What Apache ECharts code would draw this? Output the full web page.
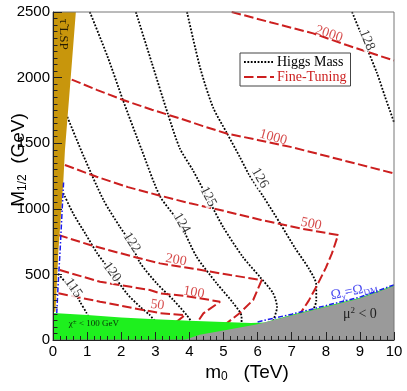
<!DOCTYPE html>
<html>
<head>
<meta charset="utf-8">
<script src="https://cdn.jsdelivr.net/npm/echarts@6/dist/echarts.min.js"></script>
<style>
html, body {margin: 0; padding: 0; background: #fff;}
#main {width: 407px; height: 391px;}
</style>
</head>
<body>
<div id="main"></div>
<script>
// axes: m0 in TeV, M1/2 in GeV
var m0Ticks = [0, 1, 2, 3, 4, 5, 6, 7, 8, 9, 10];
var mHalfTicks = [0, 500, 1000, 1500, 2000, 2500];

// Higgs mass contours, points are [m0, M1/2]
var higgs115 = [[0.15,505],[0.35,445],[0.60,381],[0.79,292],[0.99,203],[1.10,140]];
var higgs120 = [[0.30,1120],[0.60,960],[0.95,810],[1.30,660],[1.72,515],[2.16,356],[2.55,254],[2.84,190],[3.00,140]];
var higgs122 = [[0.42,1700],[0.90,1400],[1.48,1067],[1.96,863],[2.26,749],[2.55,590],[3.04,432],[3.53,305],[3.92,190],[4.10,125]];
var higgs124 = [[1.08,2500],[1.60,2160],[2.05,1830],[2.60,1450],[3.14,1095],[3.72,889],[4.21,635],[4.80,432],[5.29,280],[5.53,178],[5.53,120]];
var higgs125 = [[2.43,2500],[2.90,2110],[3.37,1722],[3.72,1460],[4.10,1295],[4.55,1075],[4.99,861],[5.57,632],[6.07,480],[6.45,358],[6.57,251],[6.45,140]];
var higgs126 = [[3.93,2500],[4.31,2080],[4.69,1775],[5.10,1577],[5.48,1394],[5.75,1260],[6.17,1092],[6.66,889],[7.10,700],[7.50,545],[7.72,420],[7.72,300],[7.60,210]];
var higgs128 = [[8.77,2500],[9.10,2290],[9.50,2035],[9.74,1852],[10,1660]];

// fine-tuning contours
var ft50 = [[0.16,356],[1.38,292],[2.35,243],[3.14,205],[3.87,190],[3.63,140],[3.55,120]];
var ft100 = [[0.20,533],[1.38,444],[2.84,381],[3.14,356],[3.90,335],[4.90,292],[4.41,203],[4.21,127],[4.18,110]];
var ft200 = [[0.16,800],[1.09,724],[2.35,635],[3.14,584],[4.31,535],[5.20,495],[6.12,457],[5.87,305],[5.48,206],[5.09,127],[5.05,110]];
var ft500 = [[0.35,1334],[1.28,1244],[2.20,1165],[3.14,1100],[4.02,1042],[5.00,985],[6.10,915],[7.24,851],[8.36,800],[8.18,660],[8.00,550],[7.75,420],[7.50,300],[7.22,190],[7.18,170]];
var ft1000 = [[0.55,1985],[1.30,1905],[2.06,1829],[2.90,1755],[3.72,1689],[4.40,1630],[5.09,1574],[6.00,1525],[7.00,1470],[8.50,1370],[10,1270]];
var ft2000 = [[5.24,2500],[6.40,2420],[7.63,2337],[8.61,2248],[10,2130]];

// excluded regions and relic density line
var lspRegion = [[0,2500],[0.67,2500],[0.52,2000],[0.35,1448],[0.30,1194],[0.16,686],[0.09,305],[0.07,215],[0,215]];
var charginoRegion = [[0,0],[0,205],[1,190],[2,172],[3,158],[4,146],[5,137],[5.8,130],[6.2,134],[7,192],[8,258],[9,322],[10,417],[10,0]];
var muRegion = [[3.85,0],[4.3,40],[5.0,72],[6.0,120],[7.0,186],[8.0,252],[9.0,316],[10,411],[10,0]];
var relicLeft = [[0.31,1200],[0.27,1000],[0.21,690],[0.15,420],[0.11,205]];
var relicRight = [[6.0,138],[7.0,197],[8.0,262],[9.0,327],[10,420]];

// contour labels
var higgsLevels = ['115', '120', '122', '124', '125', '126', '128'];
var higgsLabelAt = [[0.60,396],[1.73,518],[2.31,743],[3.77,891],[4.55,1092],[6.07,1234],[9.21,2286]];
var ftLevels = ['50', '100', '200', '500', '1000', '2000'];
var ftLabelAt = [[3.06,267],[4.13,362],[3.61,610],[7.57,884],[6.46,1544],[8.09,2332]];

var higgsLines = [higgs115, higgs120, higgs122, higgs124, higgs125, higgs126, higgs128];
var ftLines = [ft50, ft100, ft200, ft500, ft1000, ft2000];

var RED = '#cc1f1f';
var BLUE = '#1a1aee';
var SERIF = 'Liberation Serif';
var SANS = 'Liberation Sans';

var chart = echarts.init(document.getElementById('main'));

function region(pts, color) {
    return {
        type: 'custom',
        silent: true,
        z: 3,
        data: [[pts[0][0], pts[0][1]]],
        renderItem: function (params, api) {
            var p = pts.map(function (d) { return api.coord(d); });
            return {type: 'polygon', shape: {points: p}, style: {fill: color}};
        }
    };
}

function contour(name, pts, color, style, smooth) {
    return {
        name: name,
        type: 'line',
        data: pts,
        symbol: 'none',
        showSymbol: false,
        smooth: smooth,
        silent: true,
        z: 2,
        itemStyle: {color: color},
        lineStyle: style
    };
}

var series = [];
higgsLines.forEach(function (d) {
    series.push(contour('Higgs Mass', d, '#000', {color: '#000', width: 1.8, type: [1.8, 1.6]}, 0.25));
});
ftLines.forEach(function (d) {
    series.push(contour('Fine-Tuning', d, RED, {color: RED, width: 2, type: [9.5, 3.5]}, false));
});
series.push(region(lspRegion, '#c8960c'));
series.push(region(charginoRegion, '#1ef01e'));
series.push(region(muRegion, '#9a9a9a'));
[relicLeft, relicRight].forEach(function (d) {
    series.push({
        type: 'line', data: d, symbol: 'none', silent: true, z: 4,
        lineStyle: {color: BLUE, width: 1.5, type: [5, 2, 1.5, 2]}
    });
});

var higgsRot = [-55, -54, -57, -60, -62, -60, -68];
var ftRot = [-8, -10, -10, -12, -15, -18];
var labelData = [];
higgsLevels.forEach(function (t, i) {
    labelData.push({value: higgsLabelAt[i], label: {formatter: t, rotate: higgsRot[i], color: '#000', backgroundColor: '#fff'}});
});
ftLevels.forEach(function (t, i) {
    labelData.push({value: ftLabelAt[i], label: {formatter: t, rotate: ftRot[i], color: RED}});
});
series.push({
    type: 'scatter', data: labelData, symbolSize: 0, silent: true, z: 6,
    label: {show: true, position: 'inside', fontFamily: SERIF, fontSize: 14}
});

// region annotations
var notes = [
    {value: [0.31, 2330], label: {formatter: 'τ\u0303 LSP', rotate: -90, fontSize: 13, color: '#000'}},
    {value: [1.2, 122], label: {formatter: 'χ{sup|±} < 100 GeV', fontSize: 9, color: '#000', lineHeight: 11,
        rich: {sup: {fontSize: 7, lineHeight: 7, verticalAlign: 'top', fontFamily: SERIF, color: '#000'}}}},
    {value: [9.0, 195], label: {formatter: 'μ{sup|2} < 0', fontSize: 14, color: '#000', lineHeight: 17,
        rich: {sup: {fontSize: 9, lineHeight: 9, verticalAlign: 'top', fontFamily: SERIF, color: '#000'}}}},
    {value: [8.83, 373], label: {formatter: 'Ω{sub|χ\u0303}=Ω{sub|DM}', rotate: 12, fontSize: 14, color: BLUE, lineHeight: 17,
        rich: {sub: {fontSize: 9, lineHeight: 9, verticalAlign: 'bottom', fontFamily: SERIF, color: BLUE}}}}
];
series.push({
    type: 'scatter', data: notes, symbolSize: 0, silent: true, z: 6,
    label: {show: true, position: 'inside', fontFamily: SERIF}
});

var option = {
    animation: false,
    grid: {left: 53, right: 13, top: 12, bottom: 51, show: true, borderColor: '#777', borderWidth: 1, z: 10, outerBoundsMode: 'none'},
    legend: {
        data: [
            {name: 'Higgs Mass', textStyle: {color: '#000'}},
            {name: 'Fine-Tuning', textStyle: {color: RED}}
        ],
        orient: 'vertical', left: 240, top: 53,
        itemWidth: 30, itemHeight: 10, itemGap: 1,
        padding: [2, 4, 2, 3],
        borderColor: '#444', borderWidth: 1, backgroundColor: '#fff',
        selectedMode: false,
        itemStyle: {opacity: 0},
        textStyle: {fontFamily: SERIF, fontSize: 14, padding: [0, 0, 0, -2]},
        z: 12
    },
    xAxis: {
        type: 'value', min: m0Ticks[0], max: m0Ticks[m0Ticks.length - 1], interval: m0Ticks[1] - m0Ticks[0],
        z: 10,
        axisLine: {lineStyle: {color: '#222'}},
        axisTick: {inside: true, length: 8, lineStyle: {color: '#222'}},
        minorTick: {show: true, splitNumber: 5, length: 4, lineStyle: {color: '#222'}},
        splitLine: {show: false},
        axisLabel: {color: '#000', fontFamily: SANS, fontSize: 15, margin: 4}
    },
    yAxis: {
        type: 'value', min: mHalfTicks[0], max: mHalfTicks[mHalfTicks.length - 1], interval: mHalfTicks[1] - mHalfTicks[0],
        z: 10,
        axisLine: {show: true, lineStyle: {color: '#222'}},
        axisTick: {show: true, inside: true, length: 9, lineStyle: {color: '#222'}},
        minorTick: {show: true, splitNumber: 10, length: 4.5, lineStyle: {color: '#222'}},
        splitLine: {show: false},
        axisLabel: {color: '#000', fontFamily: SANS, fontSize: 15, margin: 3,
            formatter: function (v) { return String(v); }}
    },
    graphic: [
        {
            type: 'text', x: 19, y: 160, rotation: Math.PI / 2, z: 20,
            style: {
                text: 'M{s|1/2}  (GeV)', fill: '#000', font: '19px ' + SANS, align: 'center', verticalAlign: 'middle',
                rich: {s: {fontSize: 12, fontFamily: SANS, verticalAlign: 'bottom', fill: '#000'}}
            }
        },
        {
            type: 'text', x: 247, y: 373, z: 20,
            style: {
                text: 'm{s|0}   (TeV)', fill: '#000', font: '19px ' + SANS, align: 'center', verticalAlign: 'middle',
                rich: {s: {fontSize: 12, fontFamily: SANS, verticalAlign: 'bottom', fill: '#000'}}
            }
        }
    ],
    series: series
};
chart.setOption(option);
</script>
</body>
</html>
